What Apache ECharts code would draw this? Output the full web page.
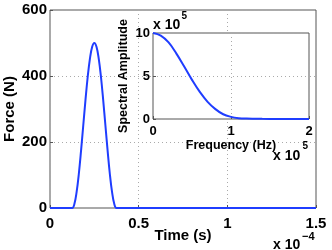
<!DOCTYPE html>
<html>
<head>
<meta charset="utf-8">
<script src="https://cdn.jsdelivr.net/npm/echarts@6/dist/echarts.min.js"></script>
<style>
html,body{margin:0;padding:0;background:#fff;}
#c{width:332px;height:250px;}
</style>
</head>
<body>
<div id="c"></div>
<script>
// Main plot: force pulse (time in units of 1e-4 s)
const timeVals  = [0, 0.1, 0.125, 0.1375, 0.15, 0.1625, 0.175, 0.1875, 0.2, 0.2125, 0.225, 0.2375, 0.25, 0.2625, 0.275, 0.2875, 0.3, 0.3125, 0.325, 0.3375, 0.35, 0.3625, 0.375, 0.4, 1.5];
const forceVals = [0, 0, 0, 12, 48, 103, 173, 250, 327, 397, 452, 488, 500, 488, 452, 397, 327, 250, 173, 103, 48, 12, 0, 0, 0];
// Inset: spectral amplitude (freq in units of 1e5 Hz, amplitude in units of 1e5)
const freqVals = [0, 0.1, 0.2, 0.3, 0.4, 0.5, 0.6, 0.7, 0.8, 0.9, 1.0, 1.1, 1.2, 1.4, 1.6, 1.8, 2.0];
const ampVals  = [10, 9.7, 8.9, 7.6, 6.1, 4.55, 3.15, 2.0, 1.15, 0.55, 0.25, 0.1, 0.05, 0.02, 0.01, 0, 0];
// Tick labels
const timeTicks  = [0, 0.5, 1, 1.5];
const forceTicks = [0, 200, 400, 600];
const freqTicks  = [0, 1, 2];
const ampTicks   = [0, 5, 10];

const FONT = "'Liberation Sans', Arial, Helvetica, sans-serif";
const AX = '#555';
const GRIDC = '#aaa';
const BLUE = '#1f3dff';

function axisBase(ticks, labelSize, labelMargin) {
  return {
    type: 'value',
    min: ticks[0],
    max: ticks[ticks.length - 1],
    interval: ticks[1] - ticks[0],
    nameMoveOverlap: false,
    axisLine: { show: false },
    axisTick: { show: true, inside: true, length: 3, lineStyle: { color: AX } },
    axisLabel: { color: '#000', fontFamily: FONT, fontWeight: 'bold', fontSize: labelSize, margin: labelMargin },
    splitLine: { show: true, lineStyle: { color: GRIDC, type: [1, 3], width: 1 } }
  };
}

const pair = (xs, ys) => xs.map((x, i) => [x, ys[i]]);

const chart = echarts.init(document.getElementById('c'), null, { renderer: 'canvas' });
chart.setOption({
  animation: false,
  backgroundColor: '#fff',
  grid: [
    { left: 50, top: 10, right: 16, bottom: 42, containLabel: false, outerBoundsMode: 'none',
      show: true, borderColor: AX, borderWidth: 1, backgroundColor: 'transparent', z: 0 },
    { left: 153, top: 33, right: 23, bottom: 131, containLabel: false, outerBoundsMode: 'none',
      show: true, borderColor: AX, borderWidth: 1, backgroundColor: '#fff', z: 3 }
  ],
  xAxis: [
    Object.assign(axisBase(timeTicks, 15, 8), {
      gridIndex: 0, name: 'Time (s)', nameLocation: 'middle', nameGap: 20,
      nameTextStyle: { color: '#000', fontFamily: FONT, fontWeight: 'bold', fontSize: 15 }
    }),
    Object.assign(axisBase(freqTicks, 13, 6), {
      gridIndex: 1, z: 4, name: 'Frequency (Hz)', nameLocation: 'middle', nameGap: 20,
      nameTextStyle: { color: '#000', fontFamily: FONT, fontWeight: 'bold', fontSize: 12.5 }
    })
  ],
  yAxis: [
    Object.assign(axisBase(forceTicks, 15, 3), {
      gridIndex: 0, name: 'Force (N)', nameLocation: 'middle', nameGap: 33,
      nameTextStyle: { color: '#000', fontFamily: FONT, fontWeight: 'bold', fontSize: 15 }
    }),
    Object.assign(axisBase(ampTicks, 13, 3), {
      gridIndex: 1, z: 4, name: 'Spectral Amplitude', nameLocation: 'middle', nameGap: 23,
      nameTextStyle: { color: '#000', fontFamily: FONT, fontWeight: 'bold', fontSize: 12.5 }
    })
  ],
  series: [
    {
      type: 'line', xAxisIndex: 0, yAxisIndex: 0, data: pair(timeVals, forceVals),
      showSymbol: false, smooth: 0.4, clip: false, z: 2,
      lineStyle: { color: BLUE, width: 2 }
    },
    {
      type: 'line', xAxisIndex: 1, yAxisIndex: 1, data: pair(freqVals, ampVals),
      showSymbol: false, smooth: 0.4, clip: false, z: 5,
      lineStyle: { color: BLUE, width: 2 }
    }
  ],
  graphic: [
    { type: 'text', left: 273, top: 238.5, z: 10,
      style: { text: 'x 10', fill: '#000', font: "bold 14px " + FONT } },
    { type: 'text', left: 302, top: 231, z: 10,
      style: { text: '\u22124', fill: '#000', font: "bold 11px " + FONT } },
    { type: 'text', left: 153, top: 18, z: 10,
      style: { text: 'x 10', fill: '#000', font: "bold 14px " + FONT } },
    { type: 'text', left: 181.5, top: 11, z: 10,
      style: { text: '5', fill: '#000', font: "bold 10px " + FONT } },
    { type: 'text', left: 273, top: 149, z: 10,
      style: { text: 'x 10', fill: '#000', font: "bold 14px " + FONT } },
    { type: 'text', left: 302.5, top: 141, z: 10,
      style: { text: '5', fill: '#000', font: "bold 10px " + FONT } }
  ]
});
</script>
</body>
</html>
